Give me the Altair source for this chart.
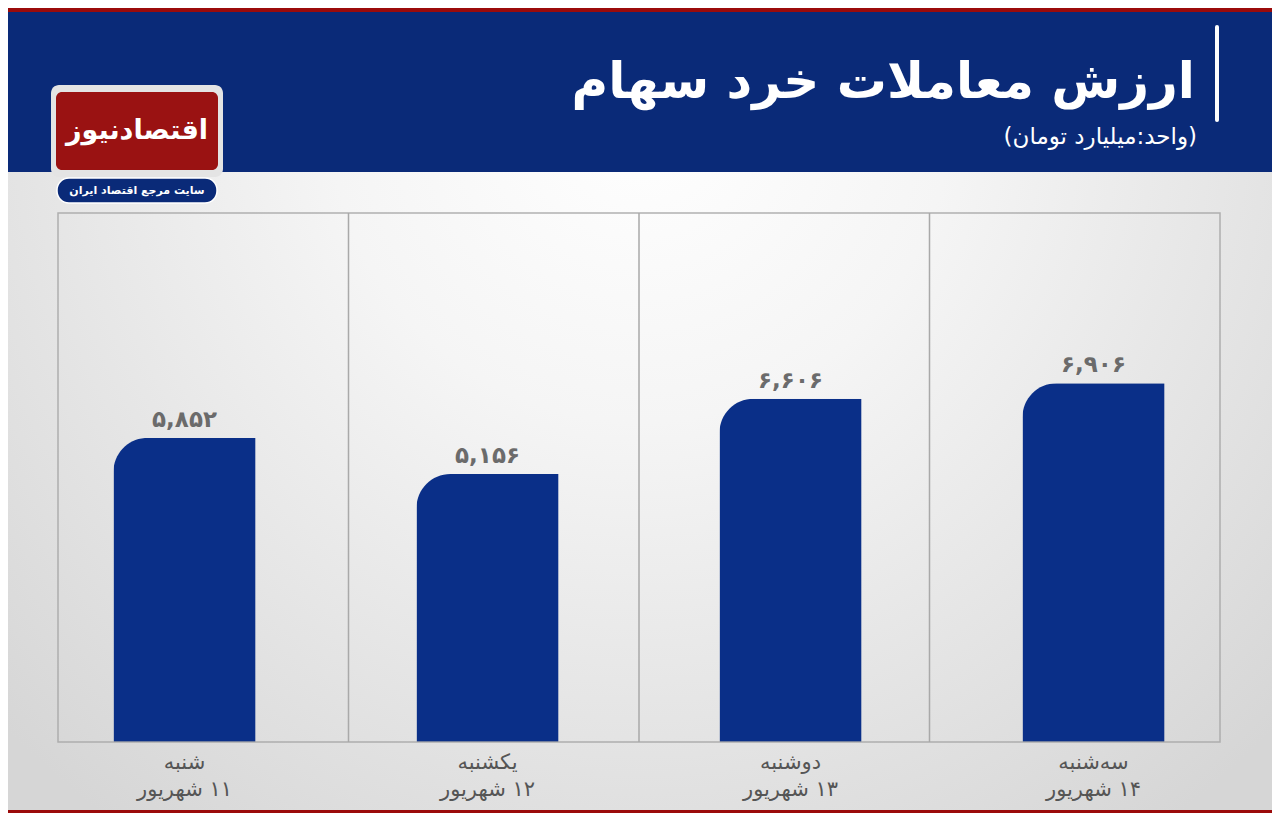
import altair as alt
import pandas as pd

# ---- data ----
days = ["شنبه", "یکشنبه", "دوشنبه", "سه‌شنبه"]
dates = ["۱۱ شهریور", "۱۲ شهریور", "۱۳ شهریور", "۱۴ شهریور"]
values = [5852, 5156, 6606, 6906]
value_labels = ["۵,۸۵۲", "۵,۱۵۶", "۶,۶۰۶", "۶,۹۰۶"]
title_text = "ارزش معاملات خرد سهام"
subtitle_text = "(واحد:میلیارد تومان)"
logo_text = "اقتصادنیوز"
logo_sub = "سایت مرجع اقتصاد ایران"
separators = [1, 2, 3]

RLM = "\u200f"
df = pd.DataFrame({
    "cat": [d + "|" + RLM + t for d, t in zip(days, dates)],
    "value": values,
    "label": value_labels,
})
sep_df = pd.DataFrame({"s": separators})
one = pd.DataFrame({"k": [0]})

W, H = 1162, 529
FONT = "DejaVu Sans"
BLUE_HEAD = "#0a2a78"
BAR_BLUE = "#0a2f88"
RED = "#9b0b0b"


def rect(x1, x2, y1, y2, **kw):
    return alt.Chart(one).mark_rect(**kw).encode(
        x=alt.value(x1), x2=alt.value(x2), y=alt.value(y1), y2=alt.value(y2)
    )


def text(t, x, y, **kw):
    return alt.Chart(pd.DataFrame({"t": [t]})).mark_text(font=FONT, **kw).encode(
        x=alt.value(x), y=alt.value(y), text="t:N"
    )


bg = rect(-50, 1214, -41, 597, fill={
    "gradient": "radial",
    "x1": 0.5, "y1": 0.2, "r1": 0,
    "x2": 0.5, "y2": 0.2, "r2": 0.7,
    "stops": [
        {"offset": 0, "color": "#ffffff"},
        {"offset": 0.35, "color": "#f5f5f5"},
        {"offset": 1, "color": "#d6d6d6"},
    ],
})
header = rect(-50, 1214, -201, -41, fill=BLUE_HEAD)
red_top = rect(-50, 1214, -205, -201, fill=RED)
red_bot = rect(-50, 1214, 597, 600, fill=RED)

seps = alt.Chart(sep_df).mark_rule(color="#a9a9a9", strokeWidth=1.5).encode(
    x=alt.X("s:Q", scale=alt.Scale(domain=[0, 4]), axis=None),
    y=alt.value(0), y2=alt.value(H),
)

xenc = alt.X(
    "cat:N", sort=None,
    scale=alt.Scale(paddingInner=0.531, paddingOuter=0.183),
    axis=alt.Axis(
        title=None, labelExpr="split(datum.label, '|')", labelAngle=0,
        labelFontSize=21, labelColor="#555555", labelFont=FONT,
        labelPadding=9, labelLineHeight=27, domain=False, ticks=False,
        grid=False, orient="bottom", zindex=2,
    ),
)
yenc = alt.Y("value:Q", scale=alt.Scale(domain=[0, 10180], nice=False), axis=None)

bars = alt.Chart(df).mark_bar(cornerRadiusTopLeft=34, color=BAR_BLUE).encode(
    x=xenc, y=yenc
)
vlabels = alt.Chart(df).mark_text(
    font=FONT, fontSize=23, fontWeight="bold", color="#6b6b6b",
    baseline="bottom", dy=-6,
).encode(x=alt.X("cat:N", sort=None), y="value:Q", text="label:N")

data_layer = alt.layer(bars, vlabels)

frame = rect(0, W, 0, H, filled=False, stroke="#a9a9a9", strokeWidth=1.5,
             strokeOpacity=0.9)

vline = alt.Chart(one).mark_rule(color="white", strokeWidth=4, strokeCap="round").encode(
    x=alt.value(1159), y=alt.value(-186), y2=alt.value(-93)
)
title = text(title_text, 1137, -115, fontSize=50, fontWeight="bold",
             color="white", align="right", baseline="alphabetic")
subtitle = text(RLM + subtitle_text + RLM, 1139, -69, fontSize=23,
                color="white", align="right", baseline="alphabetic")

logo_frame = rect(-7, 165, -128, -36, fill="#e4e4e4", cornerRadius=8)
logo_red = rect(-2, 160, -121, -43, fill="#9a1212", cornerRadius=6)
logo_t = text(logo_text, 79, -82, fontSize=27, fontWeight="bold",
              color="white", align="center", baseline="middle")
pill = rect(-1, 159, -35, -10, fill=BLUE_HEAD, cornerRadius=12,
            stroke="white", strokeWidth=1.5)
pill_t = text(logo_sub, 79, -22, fontSize=11, fontWeight="bold",
              color="white", align="center", baseline="middle")

chart = alt.layer(
    bg, header, red_top, red_bot, seps, data_layer, frame,
    vline, title, subtitle, logo_frame, logo_red, logo_t, pill, pill_t,
).resolve_scale(x="independent").properties(
    width=W, height=H, padding=0, background="#dcdcdc"
).configure_view(stroke=None)

chart.save("out.html", embed_options={"renderer": "svg", "actions": False})
